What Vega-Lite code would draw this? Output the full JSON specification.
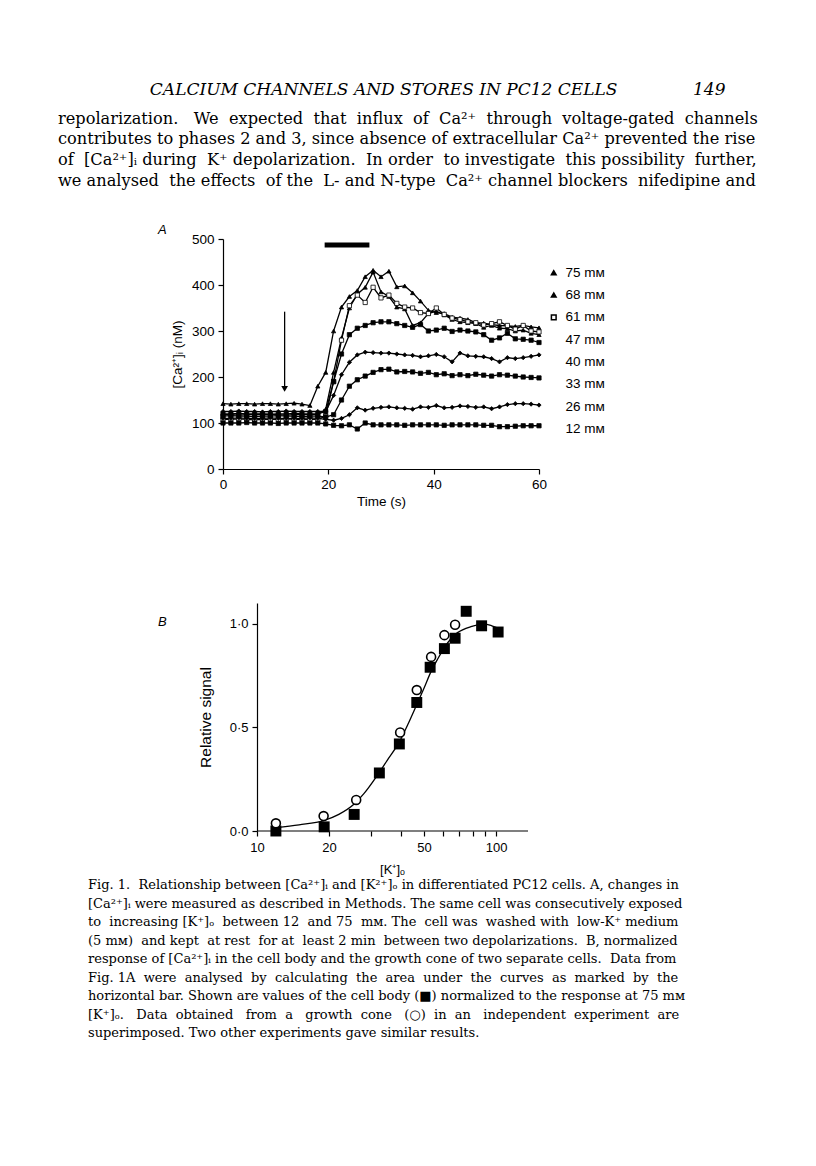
{
  "$schema": "https://vega.github.io/schema/vega-lite/v6.json",
  "background": "white",
  "padding": {"left": 58, "top": 80, "right": 10, "bottom": 10},
  "datasets": {
    "ca": [
      {"series":"75 mᴍ","t":0,"v":142},{"series":"75 mᴍ","t":1.5,"v":141},{"series":"75 mᴍ","t":3,"v":142},{"series":"75 mᴍ","t":4.5,"v":142},{"series":"75 mᴍ","t":6,"v":141},{"series":"75 mᴍ","t":7.5,"v":142},{"series":"75 mᴍ","t":9,"v":142},{"series":"75 mᴍ","t":10.5,"v":141},{"series":"75 mᴍ","t":12,"v":142},{"series":"75 mᴍ","t":13.5,"v":143},{"series":"75 mᴍ","t":15,"v":141},{"series":"75 mᴍ","t":16.5,"v":138},{"series":"75 mᴍ","t":18,"v":180},{"series":"75 mᴍ","t":19.5,"v":210},{"series":"75 mᴍ","t":21,"v":300},{"series":"75 mᴍ","t":22.5,"v":352},{"series":"75 mᴍ","t":24,"v":375},{"series":"75 mᴍ","t":25.5,"v":388},{"series":"75 mᴍ","t":27,"v":418},{"series":"75 mᴍ","t":28.5,"v":432},{"series":"75 mᴍ","t":30,"v":418},{"series":"75 mᴍ","t":31.5,"v":430},{"series":"75 mᴍ","t":33,"v":396},{"series":"75 mᴍ","t":34.5,"v":398},{"series":"75 mᴍ","t":36,"v":383},{"series":"75 mᴍ","t":37.5,"v":365},{"series":"75 mᴍ","t":39,"v":345},{"series":"75 mᴍ","t":40.5,"v":340},{"series":"75 mᴍ","t":42,"v":338},{"series":"75 mᴍ","t":43.5,"v":330},{"series":"75 mᴍ","t":45,"v":328},{"series":"75 mᴍ","t":46.5,"v":325},{"series":"75 mᴍ","t":48,"v":318},{"series":"75 mᴍ","t":49.5,"v":317},{"series":"75 mᴍ","t":51,"v":314},{"series":"75 mᴍ","t":52.5,"v":312},{"series":"75 mᴍ","t":54,"v":311},{"series":"75 mᴍ","t":55.5,"v":310},{"series":"75 mᴍ","t":57,"v":312},{"series":"75 mᴍ","t":58.5,"v":309},{"series":"75 mᴍ","t":60,"v":307},
      {"series":"68 mᴍ","t":0,"v":118},{"series":"68 mᴍ","t":1.5,"v":118},{"series":"68 mᴍ","t":3,"v":117},{"series":"68 mᴍ","t":4.5,"v":118},{"series":"68 mᴍ","t":6,"v":118},{"series":"68 mᴍ","t":7.5,"v":119},{"series":"68 mᴍ","t":9,"v":118},{"series":"68 mᴍ","t":10.5,"v":118},{"series":"68 mᴍ","t":12,"v":117},{"series":"68 mᴍ","t":13.5,"v":118},{"series":"68 mᴍ","t":15,"v":118},{"series":"68 mᴍ","t":16.5,"v":118},{"series":"68 mᴍ","t":18,"v":118},{"series":"68 mᴍ","t":19.5,"v":130},{"series":"68 mᴍ","t":21,"v":210},{"series":"68 mᴍ","t":22.5,"v":285},{"series":"68 mᴍ","t":24,"v":350},{"series":"68 mᴍ","t":25.5,"v":380},{"series":"68 mᴍ","t":27,"v":395},{"series":"68 mᴍ","t":28.5,"v":428},{"series":"68 mᴍ","t":30,"v":385},{"series":"68 mᴍ","t":31.5,"v":375},{"series":"68 mᴍ","t":33,"v":352},{"series":"68 mᴍ","t":34.5,"v":348},{"series":"68 mᴍ","t":36,"v":312},{"series":"68 mᴍ","t":37.5,"v":318},{"series":"68 mᴍ","t":39,"v":338},{"series":"68 mᴍ","t":40.5,"v":343},{"series":"68 mᴍ","t":42,"v":335},{"series":"68 mᴍ","t":43.5,"v":325},{"series":"68 mᴍ","t":45,"v":320},{"series":"68 mᴍ","t":46.5,"v":318},{"series":"68 mᴍ","t":48,"v":316},{"series":"68 mᴍ","t":49.5,"v":308},{"series":"68 mᴍ","t":51,"v":312},{"series":"68 mᴍ","t":52.5,"v":306},{"series":"68 mᴍ","t":54,"v":305},{"series":"68 mᴍ","t":55.5,"v":300},{"series":"68 mᴍ","t":57,"v":302},{"series":"68 mᴍ","t":58.5,"v":295},{"series":"68 mᴍ","t":60,"v":292},
      {"series":"61 mᴍ","t":0,"v":108},{"series":"61 mᴍ","t":1.5,"v":108},{"series":"61 mᴍ","t":3,"v":109},{"series":"61 mᴍ","t":4.5,"v":108},{"series":"61 mᴍ","t":6,"v":107},{"series":"61 mᴍ","t":7.5,"v":108},{"series":"61 mᴍ","t":9,"v":108},{"series":"61 mᴍ","t":10.5,"v":108},{"series":"61 mᴍ","t":12,"v":109},{"series":"61 mᴍ","t":13.5,"v":108},{"series":"61 mᴍ","t":15,"v":108},{"series":"61 mᴍ","t":16.5,"v":108},{"series":"61 mᴍ","t":18,"v":108},{"series":"61 mᴍ","t":19.5,"v":115},{"series":"61 mᴍ","t":21,"v":190},{"series":"61 mᴍ","t":22.5,"v":280},{"series":"61 mᴍ","t":24,"v":355},{"series":"61 mᴍ","t":25.5,"v":378},{"series":"61 mᴍ","t":27,"v":362},{"series":"61 mᴍ","t":28.5,"v":395},{"series":"61 mᴍ","t":30,"v":372},{"series":"61 mᴍ","t":31.5,"v":378},{"series":"61 mᴍ","t":33,"v":360},{"series":"61 mᴍ","t":34.5,"v":352},{"series":"61 mᴍ","t":36,"v":350},{"series":"61 mᴍ","t":37.5,"v":340},{"series":"61 mᴍ","t":39,"v":338},{"series":"61 mᴍ","t":40.5,"v":350},{"series":"61 mᴍ","t":42,"v":336},{"series":"61 mᴍ","t":43.5,"v":328},{"series":"61 mᴍ","t":45,"v":325},{"series":"61 mᴍ","t":46.5,"v":320},{"series":"61 mᴍ","t":48,"v":318},{"series":"61 mᴍ","t":49.5,"v":313},{"series":"61 mᴍ","t":51,"v":316},{"series":"61 mᴍ","t":52.5,"v":320},{"series":"61 mᴍ","t":54,"v":312},{"series":"61 mᴍ","t":55.5,"v":304},{"series":"61 mᴍ","t":57,"v":312},{"series":"61 mᴍ","t":58.5,"v":300},{"series":"61 mᴍ","t":60,"v":298},
      {"series":"47 mᴍ","t":0,"v":120},{"series":"47 mᴍ","t":1.5,"v":120},{"series":"47 mᴍ","t":3,"v":121},{"series":"47 mᴍ","t":4.5,"v":120},{"series":"47 mᴍ","t":6,"v":120},{"series":"47 mᴍ","t":7.5,"v":120},{"series":"47 mᴍ","t":9,"v":119},{"series":"47 mᴍ","t":10.5,"v":120},{"series":"47 mᴍ","t":12,"v":120},{"series":"47 mᴍ","t":13.5,"v":121},{"series":"47 mᴍ","t":15,"v":120},{"series":"47 mᴍ","t":16.5,"v":120},{"series":"47 mᴍ","t":18,"v":120},{"series":"47 mᴍ","t":19.5,"v":125},{"series":"47 mᴍ","t":21,"v":190},{"series":"47 mᴍ","t":22.5,"v":250},{"series":"47 mᴍ","t":24,"v":292},{"series":"47 mᴍ","t":25.5,"v":306},{"series":"47 mᴍ","t":27,"v":312},{"series":"47 mᴍ","t":28.5,"v":318},{"series":"47 mᴍ","t":30,"v":320},{"series":"47 mᴍ","t":31.5,"v":320},{"series":"47 mᴍ","t":33,"v":316},{"series":"47 mᴍ","t":34.5,"v":312},{"series":"47 mᴍ","t":36,"v":308},{"series":"47 mᴍ","t":37.5,"v":314},{"series":"47 mᴍ","t":39,"v":300},{"series":"47 mᴍ","t":40.5,"v":302},{"series":"47 mᴍ","t":42,"v":306},{"series":"47 mᴍ","t":43.5,"v":299},{"series":"47 mᴍ","t":45,"v":302},{"series":"47 mᴍ","t":46.5,"v":300},{"series":"47 mᴍ","t":48,"v":298},{"series":"47 mᴍ","t":49.5,"v":292},{"series":"47 mᴍ","t":51,"v":280},{"series":"47 mᴍ","t":52.5,"v":285},{"series":"47 mᴍ","t":54,"v":295},{"series":"47 mᴍ","t":55.5,"v":283},{"series":"47 mᴍ","t":57,"v":282},{"series":"47 mᴍ","t":58.5,"v":280},{"series":"47 mᴍ","t":60,"v":275},
      {"series":"40 mᴍ","t":0,"v":125},{"series":"40 mᴍ","t":1.5,"v":125},{"series":"40 mᴍ","t":3,"v":126},{"series":"40 mᴍ","t":4.5,"v":125},{"series":"40 mᴍ","t":6,"v":125},{"series":"40 mᴍ","t":7.5,"v":124},{"series":"40 mᴍ","t":9,"v":125},{"series":"40 mᴍ","t":10.5,"v":125},{"series":"40 mᴍ","t":12,"v":126},{"series":"40 mᴍ","t":13.5,"v":125},{"series":"40 mᴍ","t":15,"v":125},{"series":"40 mᴍ","t":16.5,"v":125},{"series":"40 mᴍ","t":18,"v":125},{"series":"40 mᴍ","t":19.5,"v":125},{"series":"40 mᴍ","t":21,"v":160},{"series":"40 mᴍ","t":22.5,"v":205},{"series":"40 mᴍ","t":24,"v":232},{"series":"40 mᴍ","t":25.5,"v":248},{"series":"40 mᴍ","t":27,"v":254},{"series":"40 mᴍ","t":28.5,"v":253},{"series":"40 mᴍ","t":30,"v":252},{"series":"40 mᴍ","t":31.5,"v":252},{"series":"40 mᴍ","t":33,"v":250},{"series":"40 mᴍ","t":34.5,"v":248},{"series":"40 mᴍ","t":36,"v":247},{"series":"40 mᴍ","t":37.5,"v":244},{"series":"40 mᴍ","t":39,"v":246},{"series":"40 mᴍ","t":40.5,"v":249},{"series":"40 mᴍ","t":42,"v":244},{"series":"40 mᴍ","t":43.5,"v":233},{"series":"40 mᴍ","t":45,"v":252},{"series":"40 mᴍ","t":46.5,"v":246},{"series":"40 mᴍ","t":48,"v":245},{"series":"40 mᴍ","t":49.5,"v":244},{"series":"40 mᴍ","t":51,"v":240},{"series":"40 mᴍ","t":52.5,"v":233},{"series":"40 mᴍ","t":54,"v":242},{"series":"40 mᴍ","t":55.5,"v":240},{"series":"40 mᴍ","t":57,"v":242},{"series":"40 mᴍ","t":58.5,"v":245},{"series":"40 mᴍ","t":60,"v":248},
      {"series":"33 mᴍ","t":0,"v":115},{"series":"33 mᴍ","t":1.5,"v":116},{"series":"33 mᴍ","t":3,"v":115},{"series":"33 mᴍ","t":4.5,"v":115},{"series":"33 mᴍ","t":6,"v":114},{"series":"33 mᴍ","t":7.5,"v":115},{"series":"33 mᴍ","t":9,"v":115},{"series":"33 mᴍ","t":10.5,"v":116},{"series":"33 mᴍ","t":12,"v":115},{"series":"33 mᴍ","t":13.5,"v":115},{"series":"33 mᴍ","t":15,"v":114},{"series":"33 mᴍ","t":16.5,"v":115},{"series":"33 mᴍ","t":18,"v":115},{"series":"33 mᴍ","t":19.5,"v":113},{"series":"33 mᴍ","t":21,"v":118},{"series":"33 mᴍ","t":22.5,"v":150},{"series":"33 mᴍ","t":24,"v":180},{"series":"33 mᴍ","t":25.5,"v":194},{"series":"33 mᴍ","t":27,"v":202},{"series":"33 mᴍ","t":28.5,"v":210},{"series":"33 mᴍ","t":30,"v":216},{"series":"33 mᴍ","t":31.5,"v":217},{"series":"33 mᴍ","t":33,"v":211},{"series":"33 mᴍ","t":34.5,"v":212},{"series":"33 mᴍ","t":36,"v":211},{"series":"33 mᴍ","t":37.5,"v":208},{"series":"33 mᴍ","t":39,"v":210},{"series":"33 mᴍ","t":40.5,"v":205},{"series":"33 mᴍ","t":42,"v":207},{"series":"33 mᴍ","t":43.5,"v":203},{"series":"33 mᴍ","t":45,"v":205},{"series":"33 mᴍ","t":46.5,"v":203},{"series":"33 mᴍ","t":48,"v":206},{"series":"33 mᴍ","t":49.5,"v":204},{"series":"33 mᴍ","t":51,"v":202},{"series":"33 mᴍ","t":52.5,"v":205},{"series":"33 mᴍ","t":54,"v":204},{"series":"33 mᴍ","t":55.5,"v":202},{"series":"33 mᴍ","t":57,"v":200},{"series":"33 mᴍ","t":58.5,"v":199},{"series":"33 mᴍ","t":60,"v":198},
      {"series":"26 mᴍ","t":0,"v":110},{"series":"26 mᴍ","t":1.5,"v":110},{"series":"26 mᴍ","t":3,"v":111},{"series":"26 mᴍ","t":4.5,"v":110},{"series":"26 mᴍ","t":6,"v":110},{"series":"26 mᴍ","t":7.5,"v":110},{"series":"26 mᴍ","t":9,"v":111},{"series":"26 mᴍ","t":10.5,"v":110},{"series":"26 mᴍ","t":12,"v":110},{"series":"26 mᴍ","t":13.5,"v":110},{"series":"26 mᴍ","t":15,"v":110},{"series":"26 mᴍ","t":16.5,"v":111},{"series":"26 mᴍ","t":18,"v":110},{"series":"26 mᴍ","t":19.5,"v":108},{"series":"26 mᴍ","t":21,"v":106},{"series":"26 mᴍ","t":22.5,"v":110},{"series":"26 mᴍ","t":24,"v":118},{"series":"26 mᴍ","t":25.5,"v":133},{"series":"26 mᴍ","t":27,"v":128},{"series":"26 mᴍ","t":28.5,"v":132},{"series":"26 mᴍ","t":30,"v":134},{"series":"26 mᴍ","t":31.5,"v":135},{"series":"26 mᴍ","t":33,"v":133},{"series":"26 mᴍ","t":34.5,"v":132},{"series":"26 mᴍ","t":36,"v":130},{"series":"26 mᴍ","t":37.5,"v":135},{"series":"26 mᴍ","t":39,"v":134},{"series":"26 mᴍ","t":40.5,"v":138},{"series":"26 mᴍ","t":42,"v":133},{"series":"26 mᴍ","t":43.5,"v":134},{"series":"26 mᴍ","t":45,"v":137},{"series":"26 mᴍ","t":46.5,"v":136},{"series":"26 mᴍ","t":48,"v":134},{"series":"26 mᴍ","t":49.5,"v":135},{"series":"26 mᴍ","t":51,"v":131},{"series":"26 mᴍ","t":52.5,"v":135},{"series":"26 mᴍ","t":54,"v":140},{"series":"26 mᴍ","t":55.5,"v":142},{"series":"26 mᴍ","t":57,"v":142},{"series":"26 mᴍ","t":58.5,"v":141},{"series":"26 mᴍ","t":60,"v":139},
      {"series":"12 mᴍ","t":0,"v":100},{"series":"12 mᴍ","t":1.5,"v":100},{"series":"12 mᴍ","t":3,"v":100},{"series":"12 mᴍ","t":4.5,"v":101},{"series":"12 mᴍ","t":6,"v":100},{"series":"12 mᴍ","t":7.5,"v":100},{"series":"12 mᴍ","t":9,"v":100},{"series":"12 mᴍ","t":10.5,"v":99},{"series":"12 mᴍ","t":12,"v":100},{"series":"12 mᴍ","t":13.5,"v":100},{"series":"12 mᴍ","t":15,"v":100},{"series":"12 mᴍ","t":16.5,"v":100},{"series":"12 mᴍ","t":18,"v":100},{"series":"12 mᴍ","t":19.5,"v":98},{"series":"12 mᴍ","t":21,"v":95},{"series":"12 mᴍ","t":22.5,"v":94},{"series":"12 mᴍ","t":24,"v":96},{"series":"12 mᴍ","t":25.5,"v":87},{"series":"12 mᴍ","t":27,"v":100},{"series":"12 mᴍ","t":28.5,"v":96},{"series":"12 mᴍ","t":30,"v":96},{"series":"12 mᴍ","t":31.5,"v":96},{"series":"12 mᴍ","t":33,"v":96},{"series":"12 mᴍ","t":34.5,"v":95},{"series":"12 mᴍ","t":36,"v":96},{"series":"12 mᴍ","t":37.5,"v":96},{"series":"12 mᴍ","t":39,"v":96},{"series":"12 mᴍ","t":40.5,"v":96},{"series":"12 mᴍ","t":42,"v":95},{"series":"12 mᴍ","t":43.5,"v":96},{"series":"12 mᴍ","t":45,"v":96},{"series":"12 mᴍ","t":46.5,"v":96},{"series":"12 mᴍ","t":48,"v":96},{"series":"12 mᴍ","t":49.5,"v":95},{"series":"12 mᴍ","t":51,"v":95},{"series":"12 mᴍ","t":52.5,"v":92},{"series":"12 mᴍ","t":54,"v":92},{"series":"12 mᴍ","t":55.5,"v":93},{"series":"12 mᴍ","t":57,"v":94},{"series":"12 mᴍ","t":58.5,"v":94},{"series":"12 mᴍ","t":60,"v":94}
    ],
    "bar": [{"from": 19.3, "to": 27.8, "level": 487}],
    "arrow": [{"t": 11.7, "top": 342, "tip": 174}],
    "kaxis": [{"from": 10, "to": 136, "base": 0}],
    "body": [
      {"k": 12, "signal": 0.0}, {"k": 19.1, "signal": 0.02}, {"k": 25.5, "signal": 0.08}, {"k": 32.5, "signal": 0.28},
      {"k": 39.4, "signal": 0.42}, {"k": 46.6, "signal": 0.62}, {"k": 53, "signal": 0.79}, {"k": 60.8, "signal": 0.88},
      {"k": 67.4, "signal": 0.93}, {"k": 75, "signal": 1.06}, {"k": 87, "signal": 0.99}, {"k": 102, "signal": 0.96}
    ],
    "cone": [
      {"k": 12, "signal": 0.037}, {"k": 19, "signal": 0.072}, {"k": 26, "signal": 0.15}, {"k": 39.7, "signal": 0.475},
      {"k": 46.6, "signal": 0.68}, {"k": 53.5, "signal": 0.84}, {"k": 60.8, "signal": 0.945}, {"k": 67.4, "signal": 0.995}
    ],
    "fit": [
      {"k": 12, "signal": 0.016}, {"k": 15, "signal": 0.03}, {"k": 19, "signal": 0.05}, {"k": 22, "signal": 0.08},
      {"k": 25.5, "signal": 0.13}, {"k": 28, "signal": 0.18}, {"k": 31.5, "signal": 0.26}, {"k": 35, "signal": 0.34},
      {"k": 39.4, "signal": 0.43}, {"k": 43, "signal": 0.52}, {"k": 46.6, "signal": 0.61}, {"k": 50, "signal": 0.69},
      {"k": 53.5, "signal": 0.77}, {"k": 57, "signal": 0.83}, {"k": 60.8, "signal": 0.885}, {"k": 65, "signal": 0.93},
      {"k": 69, "signal": 0.957}, {"k": 78.5, "signal": 0.986}, {"k": 89, "signal": 0.998}, {"k": 96, "signal": 0.99},
      {"k": 104, "signal": 0.975}
    ]
  },
  "title": {
    "text": "\u200b\u00a0\u00a0\u00a0\u00a0\u00a0\u00a0\u00a0\u00a0\u00a0\u00a0\u00a0\u00a0\u00a0\u00a0\u00a0\u00a0\u00a0CALCIUM CHANNELS AND STORES IN PC12 CELLS\u00a0\u00a0\u00a0\u00a0\u00a0\u00a0\u00a0\u00a0\u00a0\u00a0\u00a0\u00a0\u00a0\u00a0149",
    "subtitle": [
      "repolarization.\u00a0\u00a0 We\u00a0 expected\u00a0 that\u00a0 influx\u00a0 of\u00a0 Ca²⁺\u00a0 through\u00a0 voltage-gated\u00a0 channels",
      "contributes to phases 2 and 3, since absence of extracellular Ca²⁺ prevented the rise",
      "of\u00a0 [Ca²⁺]ᵢ during\u00a0 K⁺ depolarization.\u00a0 In order\u00a0 to investigate\u00a0 this possibility\u00a0 further,",
      "we analysed\u00a0 the effects\u00a0 of the\u00a0 L- and N-type\u00a0 Ca²⁺ channel blockers\u00a0 nifedipine and"
    ],
    "anchor": "start",
    "frame": "bounds",
    "font": "DejaVu Serif",
    "fontSize": 17,
    "fontStyle": "italic",
    "fontWeight": "normal",
    "color": "black",
    "subtitleFont": "DejaVu Serif",
    "subtitleFontSize": 16.2,
    "subtitleFontWeight": "normal",
    "subtitleColor": "black",
    "subtitleLineHeight": 20.7,
    "subtitlePadding": 12,
    "offset": 34,
    "dx": -30
  },
  "vconcat": [
    {
      "title": {
        "text": [
          "Fig. 1.\u00a0 Relationship between [Ca²⁺]ᵢ and [K²⁺]ₒ in differentiated PC12 cells. A, changes in",
          "[Ca²⁺]ᵢ were measured as described in Methods. The same cell was consecutively exposed",
          "to\u00a0 increasing [K⁺]ₒ\u00a0 between 12\u00a0 and 75\u00a0 mᴍ. The\u00a0 cell was\u00a0 washed with\u00a0 low-K⁺ medium",
          "(5 mᴍ)\u00a0 and kept\u00a0 at rest\u00a0 for at\u00a0 least 2 min\u00a0 between two depolarizations.\u00a0 B, normalized",
          "response of [Ca²⁺]ᵢ in the cell body and the growth cone of two separate cells.\u00a0 Data from",
          "Fig. 1A\u00a0 were\u00a0 analysed\u00a0 by\u00a0 calculating\u00a0 the\u00a0 area\u00a0 under\u00a0 the\u00a0 curves\u00a0 as\u00a0 marked\u00a0 by\u00a0 the",
          "horizontal bar. Shown are values of the cell body (■) normalized to the response at 75 mᴍ",
          "[K⁺]ₒ.\u00a0\u00a0 Data\u00a0 obtained\u00a0\u00a0 from\u00a0 a\u00a0\u00a0 growth\u00a0 cone\u00a0\u00a0 (○)\u00a0 in\u00a0 an\u00a0\u00a0 independent\u00a0 experiment\u00a0 are",
          "superimposed. Two other experiments gave similar results."
        ],
        "orient": "bottom",
        "anchor": "start",
        "frame": "bounds",
        "font": "DejaVu Serif",
        "fontSize": 13,
        "fontStyle": "normal",
        "fontWeight": "normal",
        "color": "black",
        "lineHeight": 18.5,
        "offset": 3,
        "dx": -70
      },
      "spacing": 95,
      "vconcat": [
        {
          "width": 316,
          "height": 230,
          "title": {"text": "A", "anchor": "start", "frame": "group", "dx": -65, "dy": 9, "offset": 4, "font": "Liberation Sans", "fontSize": 13, "fontStyle": "italic", "fontWeight": "normal", "color": "black"},
          "layer": [
            {
              "data": {"name": "ca"},
              "mark": {"type": "line", "strokeWidth": 1.3},
              "encoding": {
                "x": {"field": "t", "type": "quantitative", "scale": {"domain": [0, 60], "nice": false},
                      "axis": {"values": [0, 20, 40, 60], "title": "Time (s)", "labelPadding": 3, "titlePadding": 4}},
                "y": {"field": "v", "type": "quantitative", "scale": {"domain": [0, 500], "nice": false},
                      "axis": {"values": [0, 100, 200, 300, 400, 500], "title": "[Ca²⁺]ᵢ (nM)", "labelPadding": 4, "titlePadding": 7}},
                "stroke": {
                  "field": "series", "type": "nominal",
                  "scale": {"domain": ["47 mᴍ", "40 mᴍ", "33 mᴍ", "26 mᴍ", "12 mᴍ", "75 mᴍ", "68 mᴍ", "61 mᴍ"],
                            "range": ["black", "black", "black", "black", "black", "black", "black", "black"]},
                  "legend": {"title": null, "values": ["47 mᴍ", "40 mᴍ", "33 mᴍ", "26 mᴍ", "12 mᴍ"],
                             "orient": "none", "legendX": 324, "legendY": 94, "padding": 0,
                             "labelFont": "Liberation Sans", "labelFontSize": 13.5, "labelColor": "black", "labelOffset": 5,
                             "symbolSize": 22, "symbolType": "square", "symbolOpacity": 0, "rowPadding": 7.3}
                }
              }
            },
            {
              "data": {"name": "ca"},
              "mark": {"type": "point", "filled": true, "stroke": "black", "strokeWidth": 0.8, "size": 18, "opacity": 1},
              "encoding": {
                "x": {"field": "t", "type": "quantitative"},
                "y": {"field": "v", "type": "quantitative"},
                "shape": {
                  "field": "series", "type": "nominal",
                  "scale": {"domain": ["75 mᴍ", "68 mᴍ", "61 mᴍ", "47 mᴍ", "40 mᴍ", "33 mᴍ", "26 mᴍ", "12 mᴍ"],
                            "range": ["triangle-up", "triangle-up", "square", "square", "diamond", "square", "diamond", "square"]},
                  "legend": {"title": null, "values": ["75 mᴍ", "68 mᴍ", "61 mᴍ"],
                             "orient": "none", "legendX": 324, "legendY": 27, "padding": 0,
                             "labelFont": "Liberation Sans", "labelFontSize": 13.5, "labelColor": "black", "labelOffset": 5,
                             "symbolSize": 22, "rowPadding": 7.3}
                },
                "fill": {
                  "field": "series", "type": "nominal",
                  "scale": {"domain": ["75 mᴍ", "68 mᴍ", "61 mᴍ", "47 mᴍ", "40 mᴍ", "33 mᴍ", "26 mᴍ", "12 mᴍ"],
                            "range": ["black", "black", "white", "black", "black", "black", "black", "black"]},
                  "legend": {"title": null, "values": ["75 mᴍ", "68 mᴍ", "61 mᴍ"],
                             "orient": "none", "legendX": 324, "legendY": 27, "padding": 0,
                             "labelFont": "Liberation Sans", "labelFontSize": 13.5, "labelColor": "black", "labelOffset": 5,
                             "symbolSize": 22, "rowPadding": 7.3}
                }
              }
            },
            {
              "data": {"name": "bar"},
              "mark": {"type": "rule", "color": "black", "strokeWidth": 5},
              "encoding": {
                "x": {"field": "from", "type": "quantitative"},
                "x2": {"field": "to"},
                "y": {"field": "level", "type": "quantitative"}
              }
            },
            {
              "data": {"name": "arrow"},
              "mark": {"type": "rule", "color": "black", "strokeWidth": 1.3},
              "encoding": {
                "x": {"field": "t", "type": "quantitative"},
                "y": {"field": "top", "type": "quantitative"},
                "y2": {"field": "tip"}
              }
            },
            {
              "data": {"name": "arrow"},
              "mark": {"type": "point", "shape": "triangle-down", "filled": true, "color": "black", "size": 45, "opacity": 1},
              "encoding": {
                "x": {"field": "t", "type": "quantitative"},
                "y": {"field": "tip", "type": "quantitative"}
              }
            }
          ]
        },
        {
          "width": 305,
          "height": 228,
          "title": {"text": "B", "anchor": "start", "frame": "group", "dx": -65, "dy": 30, "offset": 4, "font": "Liberation Sans", "fontSize": 13, "fontStyle": "italic", "fontWeight": "normal", "color": "black"},
          "layer": [
            {
              "data": {"name": "fit"},
              "mark": {"type": "line", "color": "black", "strokeWidth": 1.3, "interpolate": "monotone"},
              "encoding": {
                "x": {"field": "k", "type": "quantitative", "scale": {"type": "log", "domain": [7.21, 136], "nice": false},
                      "axis": {"values": [10, 20, 30, 40, 50, 60, 70, 80, 90, 100], "format": "d", "domain": false,
                               "labelExpr": "indexof([10, 20, 50, 100], datum.value) >= 0 ? datum.label : ''",
                               "title": "[K⁺]ₒ", "titleX": 169, "labelPadding": 5, "titlePadding": 9, "labelFontSize": 13, "titleFontSize": 13}},
                "y": {"field": "signal", "type": "quantitative", "scale": {"domain": [0, 1.1], "nice": false},
                      "axis": {"values": [0, 0.5, 1], "labelExpr": "replace(format(datum.value, '.1f'), '.', '·')", "offset": -34,
                               "title": "Relative signal", "labelPadding": 4, "titlePadding": 16, "labelFontSize": 13, "titleFontSize": 15.5}}
              }
            },
            {
              "data": {"name": "kaxis"},
              "mark": {"type": "rule", "color": "black", "strokeWidth": 1.2},
              "encoding": {
                "x": {"field": "from", "type": "quantitative"},
                "x2": {"field": "to"},
                "y": {"field": "base", "type": "quantitative"}
              }
            },
            {
              "data": {"name": "body"},
              "mark": {"type": "point", "shape": "square", "filled": true, "color": "black", "size": 120, "opacity": 1},
              "encoding": {
                "x": {"field": "k", "type": "quantitative"},
                "y": {"field": "signal", "type": "quantitative"}
              }
            },
            {
              "data": {"name": "cone"},
              "mark": {"type": "point", "shape": "circle", "filled": false, "fill": "white", "stroke": "black", "strokeWidth": 1.6, "size": 80, "opacity": 1},
              "encoding": {
                "x": {"field": "k", "type": "quantitative"},
                "y": {"field": "signal", "type": "quantitative"}
              }
            }
          ]
        }
      ]
    }
  ],
  "config": {
    "view": {"stroke": null},
    "font": "Liberation Sans",
    "axis": {
      "domainColor": "black", "domainWidth": 1.2, "tickColor": "black", "tickWidth": 1.2, "tickSize": 5,
      "labelColor": "black", "titleColor": "black", "grid": false, "labelFlush": false,
      "labelFont": "Liberation Sans", "titleFont": "Liberation Sans", "labelFontSize": 13.5, "titleFontSize": 13.5,
      "titleFontWeight": "normal", "labelFontWeight": "normal"
    }
  }
}
